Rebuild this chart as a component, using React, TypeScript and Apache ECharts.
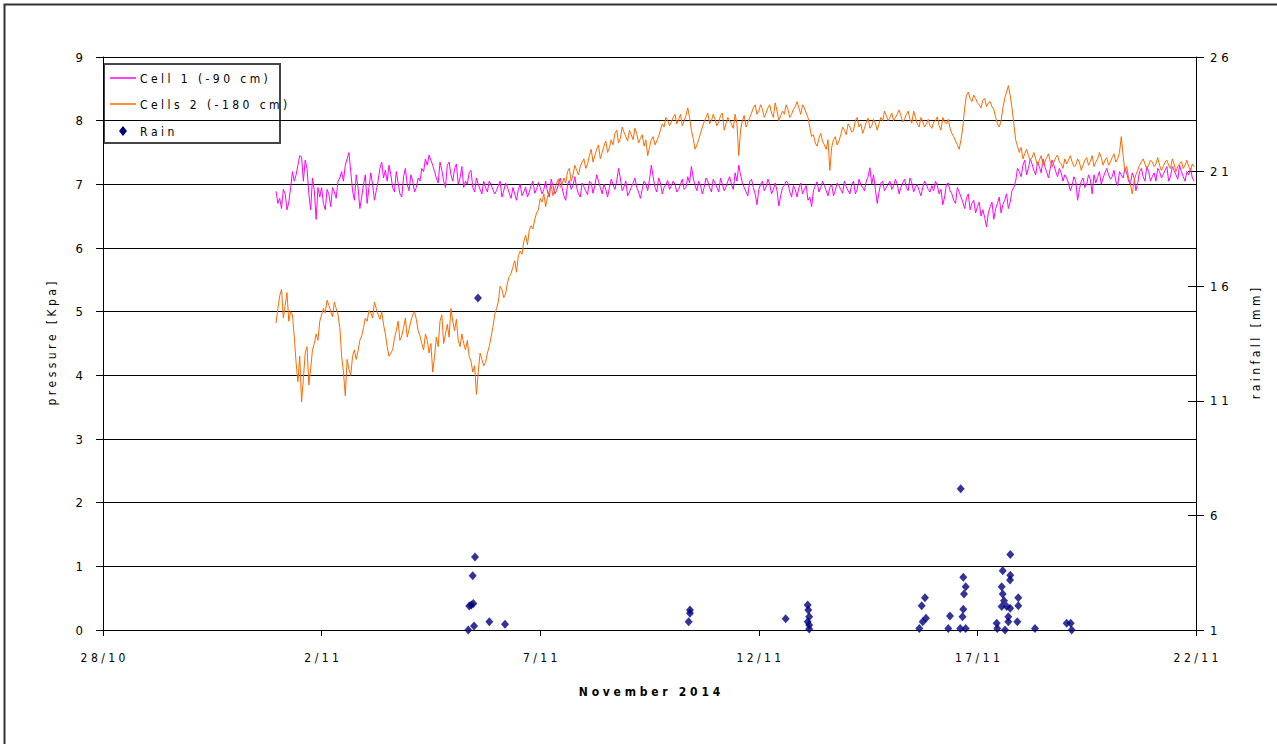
import React, { useEffect, useRef } from "react";
import * as echarts from "echarts";

// ---- data ----
// readings every hour from 31/10 23:00
const seriesStart = "2014-10-31T23:00:00Z";
const stepHours = 1;

const cell1 = [
  6.89,
  6.70,6.78, 6.62,6.92, 6.85,6.60, 6.72,6.95, 7.20,7.05, 7.15,7.30, 7.45,7.43, 7.05,7.38, 7.25,6.85, 6.60,7.10, 6.90,6.45, 6.95,6.80,
  6.95,6.70, 6.60,6.92, 6.85,6.65, 6.95,6.88, 6.78,7.05, 7.10,7.20, 7.05,7.30, 7.40,7.50, 7.20,6.90, 6.75,7.15, 6.95,6.62, 6.80,7.00,
  7.15,6.70, 6.95,7.18, 7.00,6.75, 6.90,7.05, 7.25,7.35, 7.10,7.22, 7.05,7.30, 7.15,6.95, 6.88,7.20, 7.02,6.85, 6.80,7.12, 7.25,7.00,
  6.90,7.15, 7.05,6.88, 6.95,7.10, 7.05,7.25, 7.20,7.40, 7.30,7.46, 7.38,7.30, 7.20,7.10, 7.02,7.35, 7.22,7.05, 6.95,7.30, 7.35,7.15,
  7.05,7.25, 7.32,7.00, 7.10,7.28, 6.95,7.05, 7.00,7.18, 7.22,6.95, 6.88,7.10, 7.00,6.92, 6.85,7.05, 6.95,6.88, 7.05,7.00, 6.92,6.85,
  6.90,6.98, 7.05,6.80, 6.90,7.02, 6.96,6.86, 6.78,6.95, 6.85,6.75, 6.92,7.00, 6.82,6.88, 6.96,6.80, 6.88,6.98, 7.05,6.86, 6.92,7.03,
  6.95,6.85, 6.92,7.05, 6.88,6.80, 7.08,6.98, 6.85,6.90, 7.00,7.10, 6.95,6.82, 6.75,7.00, 7.06,6.92, 6.98,7.12, 6.95,6.85, 6.80,7.02,
  6.96,6.90, 6.84,7.05, 7.02,6.86, 6.98,7.15, 7.05,6.95, 6.85,7.00, 6.92,6.80, 6.95,7.08, 7.00,6.92, 7.05,7.25, 7.10,6.90, 6.96,7.05,
  6.82,6.88, 6.95,7.02, 7.10,6.95, 6.88,6.78, 6.92,7.05, 7.00,6.90, 7.08,7.30, 7.12,6.95, 6.88,7.10, 7.02,6.85, 6.95,7.00, 7.06,6.92,
  6.98,7.05, 7.00,6.88, 6.92,7.00, 7.08,6.92, 6.95,7.12, 7.02,7.28, 7.10,6.98, 6.90,7.05, 6.98,6.85, 6.95,7.10, 7.05,6.95, 6.88,7.08,
  7.02,6.95, 6.88,7.10, 7.00,6.90, 6.96,7.05, 7.12,7.00, 6.92,7.18, 7.05,7.30, 7.15,7.02, 6.95,6.88, 6.82,7.05, 7.08,6.95, 6.85,6.68,
  6.92,7.00, 7.05,6.90, 6.96,7.08, 7.00,6.85, 6.92,7.02, 6.90,6.66, 6.82,6.95, 6.98,7.05, 7.02,6.88, 6.80,6.98, 6.92,6.80, 6.95,7.02,
  6.85,6.92, 6.98,6.75, 6.80,6.65, 6.90,6.98, 7.04,6.88, 6.95,7.05, 6.98,6.90, 6.82,6.95, 7.00,6.82, 6.90,7.02, 6.98,6.92, 6.86,7.05,
  6.96,6.90, 6.85,7.00, 7.05,6.85, 6.92,7.08, 7.00,6.95, 6.90,7.05, 7.12,7.26, 7.00,7.15, 6.92,6.70, 6.88,7.02, 7.05,6.90, 6.95,7.00,
  7.05,6.92, 6.98,7.08, 7.00,6.85, 6.95,7.02, 7.08,6.95, 6.90,7.10, 7.02,6.88, 6.96,7.00, 6.90,6.82, 6.95,7.05, 7.00,6.92, 6.88,6.98,
  6.90,7.05, 6.98,6.85, 6.92,6.68, 6.80,7.00, 7.02,6.90, 6.85,6.75, 6.70,6.95, 6.88,6.80, 6.72,6.62, 6.78,6.85, 6.60,6.70, 6.75,6.55,
  6.65,6.72, 6.50,6.60, 6.48,6.33, 6.55,6.65, 6.72,6.45, 6.62,6.70, 6.80,6.55, 6.68,6.75, 6.85,6.62, 6.72,6.90, 6.95,7.05, 7.25,7.20,
  7.12,7.30, 7.38,7.15, 7.25,7.40, 7.32,7.22, 7.15,7.35, 7.28,7.18, 7.40,7.28, 7.20,7.10, 7.25,7.38, 7.30,7.20, 7.12,7.25, 7.18,7.05,
  7.15,7.10, 7.02,6.90, 6.98,7.12, 7.05,6.75, 6.92,7.05, 7.10,6.95, 7.00,7.15, 7.08,6.85, 7.15,7.02, 7.12,7.20, 7.00,7.10, 7.18,7.25,
  7.15,7.08, 7.12,7.22, 7.05,6.98, 7.20,7.15, 7.10,7.25, 7.18,7.05, 7.00,7.18, 7.10,6.90, 7.02,7.20, 7.25,7.12, 7.05,7.28, 7.20,7.05,
  7.12,7.18, 7.05,7.25, 7.20,7.10, 7.15,7.22, 7.28,7.05, 7.12,7.28, 7.22,7.15, 7.08,7.30, 7.20,7.12, 7.05,7.20, 7.15,7.25, 7.10,7.05,
];

const cells2 = [
  4.82,
  5.05,5.25, 5.35,4.90, 5.10,5.30, 4.85,5.00, 4.95,4.60, 4.20,3.90, 4.30,3.58, 3.95,4.35, 4.45,3.85, 4.10,4.40, 4.50,4.65, 4.55,4.85,
  4.95,5.05, 4.98,5.18, 5.10,5.00, 4.92,5.15, 5.05,4.95, 4.75,4.30, 4.05,3.68, 4.25,4.10, 4.00,4.30, 4.40,4.25, 4.38,4.55, 4.62,4.75,
  4.90,4.85, 5.02,4.98, 4.90,5.15, 5.05,4.95, 4.88,5.00, 4.80,4.65, 4.45,4.30, 4.35,4.40, 4.58,4.70, 4.85,4.55, 4.62,4.75, 4.90,4.60,
  4.72,4.85, 4.95,5.00, 4.88,4.70, 4.62,4.50, 4.40,4.65, 4.55,4.35, 4.50,4.05, 4.30,4.60, 4.45,4.85, 4.95,4.50, 4.65,4.80, 4.60,5.05,
  4.85,4.70, 4.88,4.55, 4.45,4.65, 4.50,4.40, 4.55,4.30, 4.22,4.05, 4.15,3.70, 4.05,4.35, 4.25,4.15, 4.20,4.35, 4.45,4.60, 4.75,4.95,
  5.05,5.15, 5.40,5.35, 5.22,5.28, 5.45,5.55, 5.60,5.70, 5.80,5.62, 5.88,5.95, 5.90,6.10, 6.20,6.05, 6.28,6.35, 6.30,6.45, 6.55,6.60,
  6.78,6.72, 6.85,6.65, 6.80,6.90, 6.98,6.82, 6.92,7.02, 7.08,6.95, 7.00,7.10, 7.02,7.20, 7.25,7.05, 7.15,7.30, 7.22,7.15, 7.28,7.35,
  7.40,7.25, 7.32,7.45, 7.55,7.35, 7.45,7.55, 7.62,7.40, 7.50,7.60, 7.68,7.50, 7.58,7.70, 7.62,7.80, 7.85,7.65, 7.72,7.90, 7.82,7.75,
  7.68,7.85, 7.78,7.70, 7.88,7.80, 7.65,7.72, 7.78,7.60, 7.70,7.45, 7.58,7.70, 7.75,7.62, 7.68,7.75, 7.85,7.95, 7.90,8.05, 8.00,7.92,
  7.98,8.05, 8.10,7.95, 8.02,8.10, 7.92,8.00, 8.08,8.20, 8.05,7.85, 7.72,7.55, 7.62,7.70, 7.80,7.90, 7.98,8.05, 8.12,7.95, 8.00,8.10,
  8.02,7.92, 7.98,8.08, 8.12,7.85, 7.95,8.05, 8.00,7.95, 7.88,8.10, 7.95,7.45, 7.85,8.00, 8.08,7.90, 7.98,8.05, 8.12,8.20, 8.25,8.10,
  8.15,8.25, 8.18,8.05, 8.12,8.20, 8.25,8.12, 8.05,8.28, 8.15,8.00, 8.08,8.15, 8.10,8.25, 8.18,8.05, 8.10,8.18, 8.22,8.30, 8.20,8.10,
  8.25,8.20, 8.12,8.05, 7.90,7.75, 7.78,7.65, 7.60,7.72, 7.80,7.68, 7.62,7.55, 7.70,7.22, 7.58,7.70, 7.75,7.62, 7.68,7.78, 7.90,7.85,
  7.78,7.95, 7.90,7.82, 7.85,8.00, 8.05,7.90, 7.95,7.80, 7.88,7.98, 8.04,7.88, 7.92,8.02, 7.96,7.85, 7.95,8.05, 8.00,8.15, 8.08,8.00,
  8.05,8.12, 8.00,8.05, 8.10,8.17, 8.08,7.98, 8.02,8.10, 8.15,8.02, 7.96,8.15, 8.05,7.95, 7.90,8.05, 7.98,7.90, 7.95,8.02, 7.92,7.88,
  7.98,8.00, 8.06,7.92, 7.85,8.05, 7.98,7.95, 8.02,7.88, 7.80,7.75, 7.68,7.62, 7.55,7.70, 7.90,8.20, 8.40,8.45, 8.35,8.30, 8.40,8.35,
  8.28,8.25, 8.20,8.32, 8.35,8.22, 8.28,8.30, 8.22,8.18, 8.05,7.95, 7.90,8.00, 8.20,8.35, 8.45,8.55, 8.40,8.20, 7.95,7.70, 7.60,7.50,
  7.58,7.40, 7.48,7.55, 7.45,7.38, 7.42,7.50, 7.40,7.30, 7.38,7.45, 7.30,7.35, 7.42,7.48, 7.36,7.28, 7.35,7.42, 7.46,7.35, 7.32,7.25,
  7.40,7.32, 7.38,7.45, 7.35,7.28, 7.30,7.40, 7.35,7.22, 7.30,7.38, 7.42,7.30, 7.36,7.45, 7.28,7.35, 7.40,7.50, 7.42,7.30, 7.38,7.42,
  7.30,7.35, 7.42,7.48, 7.35,7.40, 7.50,7.75, 7.45,7.20, 7.28,7.10, 7.00,6.85, 7.05,7.15, 7.22,7.30, 7.35,7.40, 7.32,7.25, 7.30,7.38,
  7.35,7.28, 7.32,7.42, 7.30,7.22, 7.28,7.35, 7.38,7.30, 7.25,7.40, 7.32,7.20, 7.28,7.32, 7.36,7.25, 7.30,7.38, 7.28,7.22, 7.32,7.27,
];

const rainTimes = [
  "2014-11-05T13:50Z", "2014-11-05T12:13Z", "2014-11-05T10:57Z", "2014-11-05T09:04Z",
  "2014-11-05T11:17Z", "2014-11-05T10:10Z", "2014-11-05T08:31Z", "2014-11-05T11:40Z",
  "2014-11-05T20:04Z", "2014-11-06T04:41Z",
  "2014-11-10T10:13Z", "2014-11-10T10:13Z", "2014-11-10T09:30Z",
  "2014-11-12T14:45Z",
  "2014-11-13T02:50Z", "2014-11-13T03:10Z", "2014-11-13T03:40Z", "2014-11-13T02:50Z",
  "2014-11-13T03:40Z", "2014-11-13T03:40Z",
  "2014-11-16T14:50Z", "2014-11-17T18:04Z", "2014-11-17T13:54Z", "2014-11-16T16:15Z",
  "2014-11-17T18:04Z", "2014-11-17T17:55Z", "2014-11-16T17:34Z", "2014-11-17T13:20Z",
  "2014-11-16T16:39Z", "2014-11-17T13:54Z", "2014-11-15T19:13Z", "2014-11-17T22:27Z",
  "2014-11-15T17:25Z", "2014-11-17T14:37Z", "2014-11-17T22:27Z", "2014-11-17T13:20Z",
  "2014-11-17T16:05Z", "2014-11-16T16:15Z", "2014-11-17T18:00Z", "2014-11-15T19:46Z",
  "2014-11-16T08:57Z", "2014-11-16T15:50Z", "2014-11-17T16:58Z", "2014-11-15T17:59Z",
  "2014-11-17T10:35Z", "2014-11-17T16:58Z", "2014-11-17T21:55Z", "2014-11-19T01:00Z",
  "2014-11-19T03:13Z", "2014-11-15T16:06Z", "2014-11-16T08:01Z", "2014-11-16T14:35Z",
  "2014-11-16T17:34Z", "2014-11-17T10:55Z", "2014-11-17T15:09Z", "2014-11-18T07:37Z",
  "2014-11-19T03:46Z",
];
const rainValues = [
  15.49, 4.19, 3.37, 2.05,
  2.16, 2.09, 1.0, 1.17,
  1.36, 1.25,
  1.87, 1.73, 1.36,
  1.49,
  2.09, 1.87, 1.58, 1.36,
  1.22, 1.04,
  7.16, 4.29, 3.59, 3.30,
  3.39, 3.18, 2.89, 2.89,
  2.57, 2.57, 2.41, 2.41,
  2.06, 2.28, 2.06, 2.02,
  2.02, 1.90, 1.95, 1.51,
  1.61, 1.58, 1.58, 1.36,
  1.29, 1.36, 1.36, 1.29,
  1.29, 1.07, 1.07, 1.07,
  1.07, 1.07, 1.0, 1.07,
  1.0,
];

const xMin = "2014-10-28T00:00:00Z";
const xMax = "2014-11-22T00:00:00Z";
const xIntervalDays = 5;
const leftTicks = { min: 0, max: 9, interval: 1 };
const rightTicks = { min: 1, max: 26, interval: 5 };

const FONT = "'Liberation Sans Narrow', 'Arial Narrow', 'DejaVu Sans Condensed', sans-serif";
const spaced = (s: string) => s.split("").join(" ");

export default function App() {
  const ref = useRef<HTMLDivElement>(null);
  useEffect(() => {
    if (!ref.current) return;
    const chart = echarts.init(ref.current, undefined, { renderer: "svg" });
    const t0 = Date.parse(seriesStart);
    const step = stepHours * 3600 * 1000;
    const d1 = cell1.map((v, i) => [t0 + i * step, v]);
    const d2 = cells2.map((v, i) => [t0 + i * step, v]);
    const dr = rainTimes.map((t, i) => [Date.parse(t), rainValues[i]]);
    const day = 86400000;

    const labelStyle = { fontFamily: FONT, fontSize: 12, color: "#000" };

    chart.setOption({
      animation: false,
      backgroundColor: "#fff",
      grid: { left: 103, top: 57, width: 1093, height: 573, containLabel: false },
      xAxis: {
        type: "value",
        min: Date.parse(xMin),
        max: Date.parse(xMax),
        interval: xIntervalDays * day,
        name: spaced("November 2014"),
        nameLocation: "middle",
        nameGap: 56,
        nameTextStyle: { fontFamily: FONT, fontSize: 12, fontWeight: "bold", color: "#000" },
        axisLine: { show: true, lineStyle: { color: "#000", width: 1 } },
        axisTick: { show: true, inside: false, length: 6, lineStyle: { color: "#000" } },
        axisLabel: {
          ...labelStyle,
          margin: 22,
          formatter: (v: number) => {
            const d = new Date(v);
            return spaced(`${d.getUTCDate()}/${d.getUTCMonth() + 1}`);
          },
        },
        splitLine: { show: false },
      },
      yAxis: [
        {
          type: "value",
          position: "left",
          ...leftTicks,
          name: spaced("pressure [Kpa]"),
          nameLocation: "middle",
          nameRotate: 90,
          nameGap: 45,
          nameTextStyle: { fontFamily: FONT, fontSize: 12, color: "#000" },
          axisLine: { show: true, lineStyle: { color: "#000", width: 1 } },
          axisTick: { show: true, inside: false, length: 7, lineStyle: { color: "#000" } },
          axisLabel: { ...labelStyle, fontSize: 13, margin: 20 },
          splitLine: { show: true, lineStyle: { color: "#000", width: 1 } },
        },
        {
          type: "value",
          position: "right",
          ...rightTicks,
          name: spaced("rainfall [mm]"),
          nameLocation: "middle",
          nameRotate: 90,
          nameGap: 54,
          nameTextStyle: { fontFamily: FONT, fontSize: 12, color: "#000" },
          axisLine: { show: true, lineStyle: { color: "#000", width: 1 } },
          axisTick: { show: true, inside: false, length: 8, lineStyle: { color: "#000" } },
          axisLabel: { ...labelStyle, fontSize: 13, margin: 14, formatter: (v: number) => spaced(String(v)) },
          splitLine: { show: false },
        },
        {
          type: "value",
          position: "right",
          ...rightTicks,
          axisLine: { show: false },
          axisTick: { show: true, inside: true, length: 8, lineStyle: { color: "#000" } },
          axisLabel: { show: false },
          splitLine: { show: false },
        },
      ],
      series: [
        {
          name: "Cell 1 (-90 cm)",
          type: "line",
          yAxisIndex: 0,
          data: d1,
          symbol: "none",
          lineStyle: { color: "#FF00FF", width: 1 },
          itemStyle: { color: "#FF00FF" },
        },
        {
          name: "Cells 2 (-180 cm)",
          type: "line",
          yAxisIndex: 0,
          data: d2,
          symbol: "none",
          lineStyle: { color: "#FF6A00", width: 1 },
          itemStyle: { color: "#FF6A00" },
        },
        {
          name: "Rain",
          type: "scatter",
          yAxisIndex: 1,
          data: dr,
          symbol: "diamond",
          symbolSize: [8, 9],
          itemStyle: { color: "#000080" },
        },
      ],
      graphic: [
        {
          type: "rect",
          shape: { x: 4.5, y: 4.5, width: 1300, height: 800 },
          style: { fill: "none", stroke: "#333", lineWidth: 2 },
          silent: true,
        },
        {
          type: "group",
          left: 103,
          top: 63,
          children: [
            { type: "rect", shape: { x: 0, y: 0, width: 176, height: 79 }, style: { fill: "#fff", stroke: "#444", lineWidth: 2 } },
            { type: "line", shape: { x1: 6, y1: 14, x2: 32, y2: 14 }, style: { stroke: "#FF00FF", lineWidth: 1.5 } },
            { type: "text", x: 36, y: 15, style: { text: spaced("Cell 1 (-90 cm)"), font: `12px ${FONT}`, fill: "#000", verticalAlign: "middle" } },
            { type: "line", shape: { x1: 6, y1: 40, x2: 32, y2: 40 }, style: { stroke: "#FF6A00", lineWidth: 1.5 } },
            { type: "text", x: 36, y: 41, style: { text: spaced("Cells 2 (-180 cm)"), font: `12px ${FONT}`, fill: "#000", verticalAlign: "middle" } },
            { type: "polygon", shape: { points: [[19, 62], [23, 67], [19, 72], [15, 67]] }, style: { fill: "#000080" } },
            { type: "text", x: 36, y: 68, style: { text: spaced("Rain"), font: `12px ${FONT}`, fill: "#000", verticalAlign: "middle" } },
          ],
        },
      ],
    });
    return () => chart.dispose();
  }, []);
  return <div ref={ref} style={{ position: "absolute", left: 0, top: 0, width: 1277, height: 744 }} />;
}
